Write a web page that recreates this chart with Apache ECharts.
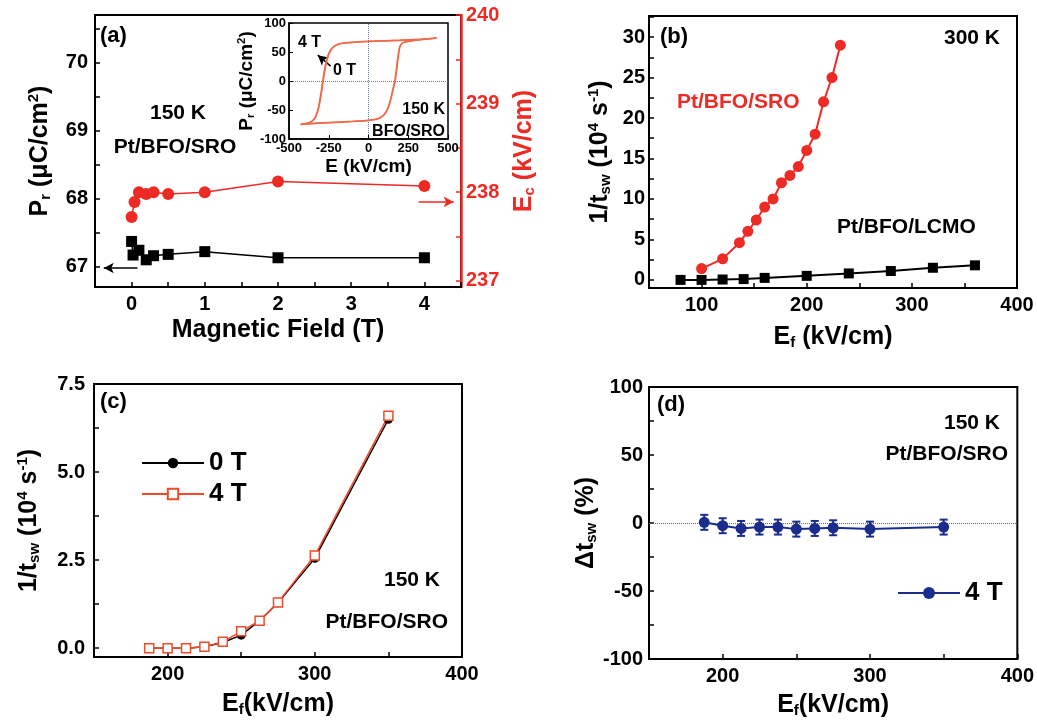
<!DOCTYPE html>
<html>
<head>
<meta charset="utf-8">
<script src="https://cdn.jsdelivr.net/npm/echarts@6/dist/echarts.min.js"></script>
<style>html,body{margin:0;padding:0;background:#fff;}#main{width:1037px;height:723px;}</style>
</head>
<body>
<div id="main"></div>
<script>
// (a) Pr and Ec against magnetic field, 150 K
var fieldPr = [0, 0.02, 0.1, 0.2, 0.3, 0.5, 1, 2, 4];
var prValues = [67.37, 67.17, 67.24, 67.1, 67.16, 67.18, 67.22, 67.13, 67.13];
var fieldEc = [0, 0.04, 0.1, 0.2, 0.3, 0.5, 1, 2, 4];
var ecValues = [237.72, 237.89, 238.0, 237.98, 238.0, 237.98, 238.0, 238.12, 238.07];
// inset hysteresis loops (0 T and 4 T)
var loopE0 = [-430,-380,-250,-100,0,60,95,120,140,155,165,175,185,195,210,250,330,430,330,200,0,-120,-180,-215,-240,-260,-275,-288,-300,-315,-335,-360,-400,-430];
var loopP0 = [-75,-74,-72,-70,-68,-65,-59,-48,-30,-12,0,20,42,58,65,68,71,74,72,70,68,66,64,60,53,40,22,0,-22,-45,-62,-70,-74,-75];
var loopE4 = [-425,-380,-250,-100,0,62,98,123,143,158,168,178,188,198,213,250,330,425,330,200,0,-120,-178,-212,-237,-257,-272,-285,-297,-312,-332,-357,-398,-425];
var loopP4 = [-74,-73.5,-71.5,-69.5,-67.5,-64.5,-58,-47,-29,-11,0,21,43,59,65.5,68.5,71.5,73.5,72,70.5,68.5,66.5,64.5,60.5,53,40,22,0,-22,-45,-62,-70,-73.5,-74];
// (b) switching rate, 300 K
var efSro = [100, 120, 136, 144, 152, 160, 168, 176, 184, 192, 200, 208, 216, 224, 232];
var rateSro = [1.4, 2.6, 4.6, 6.0, 7.4, 9.0, 10.0, 12.0, 12.9, 14.0, 16.0, 18.0, 22.0, 25.0, 29.0];
var efLcmo = [80, 100, 120, 140, 160, 200, 240, 280, 320, 360];
var rateLcmo = [0, 0, 0.05, 0.1, 0.25, 0.5, 0.8, 1.1, 1.5, 1.8];
// (c) switching rate at 0 T / 4 T, 150 K
var efC = [187.5, 200, 212.5, 225, 237.5, 250, 262.5, 275, 300, 350];
var rate0T = [0, 0, 0, 0.04, 0.16, 0.37, 0.78, 1.29, 2.55, 6.5];
var rate4T = [0, 0, 0, 0.04, 0.18, 0.48, 0.78, 1.3, 2.63, 6.6];
// (d) relative change of tsw
var dtsw = [0.5, -2, -4, -3, -3, -4.5, -4, -3.5, -4.5, -3];
var dtswErr = [5.5, 5.5, 5.5, 5.5, 5.5, 5.5, 5.5, 5.5, 5.5, 5.5];
// tick labels
var ticksAx = [0, 1, 2, 3, 4], ticksAPr = [67, 68, 69, 70], ticksAEc = [237, 238, 239, 240];
var ticksBx = [100, 200, 300, 400], ticksBy = [0, 5, 10, 15, 20, 25, 30];
var ticksCDx = [200, 300, 400], ticksCy = [0, 2.5, 5, 7.5], ticksDy = [-100, -50, 0, 50, 100];

var FONT = '"Liberation Sans", Arial, sans-serif';
var RED = '#ee2a24', RED_C = '#f04a28', BLUE = '#1a2c8c', LOOP = '#f06a4a';

function pairs(xs, ys){
	return xs.map(function(x, i){ return [x, ys[i]]; });
}
function richName(size){
	return {
		sub: {fontSize: size*0.6, fontWeight: 'bold', fontFamily: FONT, verticalAlign: 'bottom', padding: [size*0.45, 0, 0, 0]},
		sup: {fontSize: size*0.6, fontWeight: 'bold', fontFamily: FONT, verticalAlign: 'top', padding: [0, 0, size*0.45, 0]}
	};
}
function axisOf(grid, pos, min, max, labels, ticks, name, gap, margin, color){
	color = color || '#000';
	var ax = {
		type: 'value', gridIndex: grid, position: pos, min: min, max: max,
		name: name, nameLocation: 'middle', nameGap: gap,
		nameTextStyle: {fontSize: 25, fontWeight: 'bold', fontFamily: FONT, color: color, rich: richName(25)},
		axisLine: {show: true, onZero: false, lineStyle: {color: color, width: 2}},
		axisTick: {show: true, inside: true, length: 5, customValues: ticks, lineStyle: {color: color, width: 1.5}},
		axisLabel: {customValues: labels, margin: margin, fontSize: 20, fontWeight: 'bold', fontFamily: FONT, color: color},
		splitLine: {show: false}
	};
	if(pos == 'left' || pos == 'right'){ ax.nameRotate = 90; }
	return ax;
}
function halfTicks(labels, step){
	var t = [];
	labels.forEach(function(v){ t.push(v); t.push(v + step/2); t.push(v - step/2); });
	return t;
}
function label(text, x, y, size, color, align){
	return {type: 'text', x: x, y: y, z: 100, style: {text: text, fill: color || '#000', font: 'bold ' + size + 'px ' + FONT, align: align || 'left', verticalAlign: 'middle'}};
}

var frame = {show: true, borderColor: '#000', borderWidth: 2, backgroundColor: 'transparent'};
var option = {animation: false, backgroundColor: '#fff'};
option.grid = [
	Object.assign({left: 95, top: 15, width: 366, height: 272}, frame),
	Object.assign({left: 649, top: 16, width: 368, height: 272}, frame),
	Object.assign({left: 94, top: 384, width: 368, height: 273}, frame),
	Object.assign({left: 649, top: 387, width: 369, height: 272}, frame),
	{left: 289, top: 23, width: 159, height: 116, show: true, borderColor: '#000', borderWidth: 1.5, backgroundColor: '#fff', z: 5}
];
option.xAxis = [
	axisOf(0, 'bottom', -0.5, 4.5, ticksAx, halfTicks(ticksAx, 1), 'Magnetic Field (T)', 31, 7),
	axisOf(1, 'bottom', 50, 400, ticksBx, halfTicks(ticksBx, 100), 'E{sub|f} (kV/cm)', 36, 7),
	axisOf(2, 'bottom', 150, 400, ticksCDx, halfTicks(ticksCDx, 100), 'E{sub|f}(kV/cm)', 34, 7),
	axisOf(3, 'bottom', 150, 400, ticksCDx, halfTicks(ticksCDx, 100), 'E{sub|f}(kV/cm)', 33, 7)
];
option.xAxis.push({
	type: 'value', gridIndex: 4, min: -500, max: 500, interval: 250, z: 6,
	name: 'E (kV/cm)', nameLocation: 'middle', nameGap: 18,
	nameTextStyle: {fontSize: 19, fontWeight: 'bold', fontFamily: FONT, color: '#000'},
	axisLine: {onZero: false, lineStyle: {color: '#000', width: 1.5}},
	axisTick: {inside: true, length: 4, lineStyle: {color: '#000'}},
	axisLabel: {margin: 3, fontSize: 13, fontWeight: 'bold', fontFamily: FONT, color: '#000'},
	splitLine: {show: false}
});

option.yAxis = [
	axisOf(0, 'left', 66.7, 70.7, ticksAPr, halfTicks(ticksAPr, 1), 'P{sub|r} (\u03bcC/cm{sup|2})', 42, 7),
	axisOf(0, 'right', 236.93, 240, ticksAEc, halfTicks(ticksAEc, 1), 'E{sub|c} (kV/cm)', 50, 5, RED),
	axisOf(1, 'left', -1, 32.6, ticksBy, halfTicks(ticksBy, 5), '1/t{sub|sw} (10{sup|4} s{sup|-1})', 36, 4),
	axisOf(2, 'left', -0.25, 7.5, ticksCy, halfTicks(ticksCy, 2.5), '1/t{sub|sw} (10{sup|4} s{sup|-1})', 52, 9),
	axisOf(3, 'left', -100, 100, ticksDy, halfTicks(ticksDy, 50), '\u0394t{sub|sw} (%)', 48, 6)
];
option.yAxis[1].axisLine.lineStyle.width = 2.5;
option.yAxis[3].axisLabel.formatter = function(v){ return v.toFixed(1); };
option.yAxis.push({
	type: 'value', gridIndex: 4, min: -100, max: 100, interval: 50, z: 6,
	name: 'P{sub|r} (\u03bcC/cm{sup|2})', nameLocation: 'middle', nameGap: 30, nameRotate: 90,
	nameTextStyle: {fontSize: 19, fontWeight: 'bold', fontFamily: FONT, color: '#000', rich: richName(19)},
	axisLine: {onZero: false, lineStyle: {color: '#000', width: 1.5}},
	axisTick: {inside: true, length: 4, lineStyle: {color: '#000'}},
	axisLabel: {margin: 3, fontSize: 13, fontWeight: 'bold', fontFamily: FONT, color: '#000'},
	splitLine: {show: false}
});

function arrowLine(from, to, color){
	return {
		silent: true, symbol: ['none', 'arrow'], symbolSize: [8, 10],
		label: {show: false}, lineStyle: {color: color, width: 1.5, type: 'solid'},
		data: [[{coord: from}, {coord: to}]]
	};
}

option.series = [
	{type: 'line', name: 'Pr', xAxisIndex: 0, yAxisIndex: 0, data: pairs(fieldPr, prValues),
		symbol: 'rect', symbolSize: 11, itemStyle: {color: '#000'}, lineStyle: {color: '#000', width: 1.5},
		markLine: arrowLine([0.08, 66.98], [-0.38, 66.98], '#000')},
	{type: 'line', name: 'Ec', xAxisIndex: 0, yAxisIndex: 1, data: pairs(fieldEc, ecValues),
		symbol: 'circle', symbolSize: 12, itemStyle: {color: RED}, lineStyle: {color: RED, width: 1.5},
		markLine: arrowLine([3.92, 237.89], [4.4, 237.89], RED)},
	{type: 'line', name: 'loop 0 T', xAxisIndex: 4, yAxisIndex: 5, data: pairs(loopE0, loopP0), z: 7,
		showSymbol: false, smooth: 0.25, lineStyle: {color: LOOP, width: 1.5},
		markLine: {silent: true, symbol: 'none', label: {show: false},
			lineStyle: {color: '#6a78a8', width: 1, type: 'dotted'},
			data: [{xAxis: 0}, {yAxis: 0}]}},
	{type: 'line', name: 'loop 4 T', xAxisIndex: 4, yAxisIndex: 5, data: pairs(loopE4, loopP4), z: 7,
		showSymbol: false, smooth: 0.25, lineStyle: {color: LOOP, width: 1.5},
		markLine: arrowLine([-238, 25.7], [-319, 44.6], '#000')},
	{type: 'line', name: 'Pt/BFO/SRO', xAxisIndex: 1, yAxisIndex: 2, data: pairs(efSro, rateSro),
		symbol: 'circle', symbolSize: 11, itemStyle: {color: RED}, lineStyle: {color: RED, width: 2}},
	{type: 'line', name: 'Pt/BFO/LCMO', xAxisIndex: 1, yAxisIndex: 2, data: pairs(efLcmo, rateLcmo),
		symbol: 'rect', symbolSize: 10, itemStyle: {color: '#000'}, lineStyle: {color: '#000', width: 2}},
	{type: 'line', name: '0 T', xAxisIndex: 2, yAxisIndex: 3, data: pairs(efC, rate0T),
		symbol: 'circle', symbolSize: 9, itemStyle: {color: '#000'}, lineStyle: {color: '#000', width: 1.5}},
	{type: 'line', name: '4 T', xAxisIndex: 2, yAxisIndex: 3, data: pairs(efC, rate4T),
		symbol: 'rect', symbolSize: 9, itemStyle: {color: '#fff', borderColor: RED_C, borderWidth: 1.5},
		lineStyle: {color: RED_C, width: 1.5}},
	{type: 'custom', name: 'err', xAxisIndex: 3, yAxisIndex: 4,
		data: efC.map(function(e, i){ return [e, dtsw[i] - dtswErr[i], dtsw[i] + dtswErr[i]]; }),
		renderItem: function(params, api){
			var lo = api.coord([api.value(0), api.value(1)]);
			var hi = api.coord([api.value(0), api.value(2)]);
			var w = 4, st = {stroke: BLUE, lineWidth: 2};
			return {type: 'group', children: [
				{type: 'line', shape: {x1: lo[0], y1: lo[1], x2: hi[0], y2: hi[1]}, style: st},
				{type: 'line', shape: {x1: lo[0]-w, y1: lo[1], x2: lo[0]+w, y2: lo[1]}, style: st},
				{type: 'line', shape: {x1: hi[0]-w, y1: hi[1], x2: hi[0]+w, y2: hi[1]}, style: st}
			]};
		}},
	{type: 'line', name: 'd4T', xAxisIndex: 3, yAxisIndex: 4, data: pairs(efC, dtsw), z: 3,
		symbol: 'circle', symbolSize: 11, itemStyle: {color: BLUE}, lineStyle: {color: BLUE, width: 2},
		markLine: {silent: true, symbol: 'none', label: {show: false}, z: 1,
			lineStyle: {color: '#666', width: 1, type: 'dotted'}, data: [{yAxis: 0}]}}
];

option.legend = [
	{data: ['0 T', '4 T'], orient: 'vertical', left: 136, top: 445, itemWidth: 62, itemHeight: 13, itemGap: 5,
		selectedMode: false, textStyle: {fontSize: 26, fontWeight: 'bold', fontFamily: FONT, color: '#000'}},
	{data: ['d4T'], left: 892, top: 575, itemWidth: 62, itemHeight: 15, selectedMode: false,
		formatter: function(){ return '4 T'; },
		textStyle: {fontSize: 26, fontWeight: 'bold', fontFamily: FONT, color: '#000'}}
];

option.graphic = [
	label('(a)', 100, 36, 22),
	label('150 K', 178, 113, 21, '#000', 'center'),
	label('Pt/BFO/SRO', 175, 147, 21, '#000', 'center'),
	label('4 T', 298, 43, 16),
	label('0 T', 333, 71, 16),
	label('150 K', 445, 110, 16, '#000', 'right'),
	label('BFO/SRO', 445, 132, 16, '#000', 'right'),
	label('(b)', 660, 37, 22),
	label('300 K', 1000, 38, 21, '#000', 'right'),
	label('Pt/BFO/SRO', 677, 102, 21, RED),
	label('Pt/BFO/LCMO', 837, 227, 21),
	label('(c)', 100, 402, 22),
	label('150 K', 440, 580, 21, '#000', 'right'),
	label('Pt/BFO/SRO', 448, 622, 21, '#000', 'right'),
	label('(d)', 657, 405, 22),
	label('150 K', 1000, 423, 21, '#000', 'right'),
	label('Pt/BFO/SRO', 1008, 454, 21, '#000', 'right')
];

var chart = echarts.init(document.getElementById('main'));
chart.setOption(option);
</script>
</body>
</html>
